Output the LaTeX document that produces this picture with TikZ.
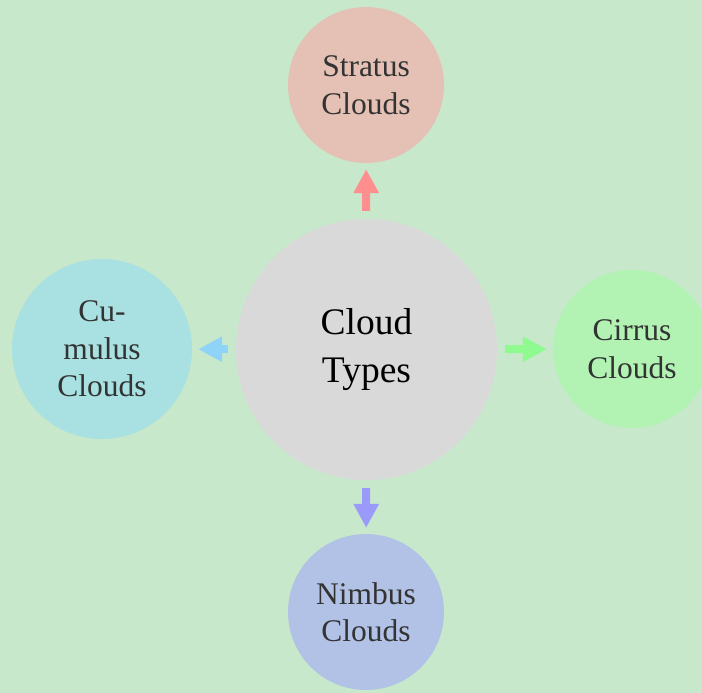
\documentclass[tikz,border=0pt]{standalone}
\usepackage{fontspec}
\setmainfont{Liberation Serif}
\usetikzlibrary{arrows.meta}
\definecolor{bgc}{HTML}{C8E8CB}
\definecolor{strc}{HTML}{E4C1B4}
\definecolor{circ}{HTML}{B2F3B4}
\definecolor{cumc}{HTML}{A9E0E1}
\definecolor{nimc}{HTML}{B2C2E6}
\definecolor{cenc}{HTML}{D9D9D9}
\definecolor{arup}{HTML}{FF8F8F}
\definecolor{arleft}{HTML}{8FD4F8}
\definecolor{arright}{HTML}{8FFA8F}
\definecolor{ardown}{HTML}{9A9AFA}
\definecolor{txt}{HTML}{333333}
\tikzset{
  bubble/.style={circle, inner sep=0pt, align=center, text=txt,
    font=\fontsize{31.5}{37.5}\selectfont},
  linkarrow/.style={line width=8pt, -{Triangle[width=24pt,length=24pt]},
    shorten <=8pt, shorten >=6pt}
}
\begin{document}
\begin{tikzpicture}[x=1pt,y=-1pt]
\fill[bgc] (0,0) rectangle (702,693);
\useasboundingbox (0,0) rectangle (702,693);
\node[bubble, fill=cenc, minimum size=261pt, text=black,
  font=\fontsize{37.5}{48}\selectfont] (center) at (366.5,349.5) {Cloud\\Types};
\node[bubble, fill=strc, minimum size=156pt] (stratus) at (366,85) {Stratus\\Clouds};
\node[bubble, fill=circ, minimum size=158pt] (cirrus) at (632,349) {Cirrus\\Clouds};
\node[bubble, fill=cumc, minimum size=180pt] (cumulus) at (102,349) {Cu-\\mulus\\Clouds};
\node[bubble, fill=nimc, minimum size=156pt] (nimbus) at (366,612) {Nimbus\\Clouds};
\draw[linkarrow, arup] (center) -- (stratus);
\draw[linkarrow, arright] (center) -- (cirrus);
\draw[linkarrow, arleft] (center) -- (cumulus);
\draw[linkarrow, ardown] (center) -- (nimbus);
\end{tikzpicture}
\end{document}
